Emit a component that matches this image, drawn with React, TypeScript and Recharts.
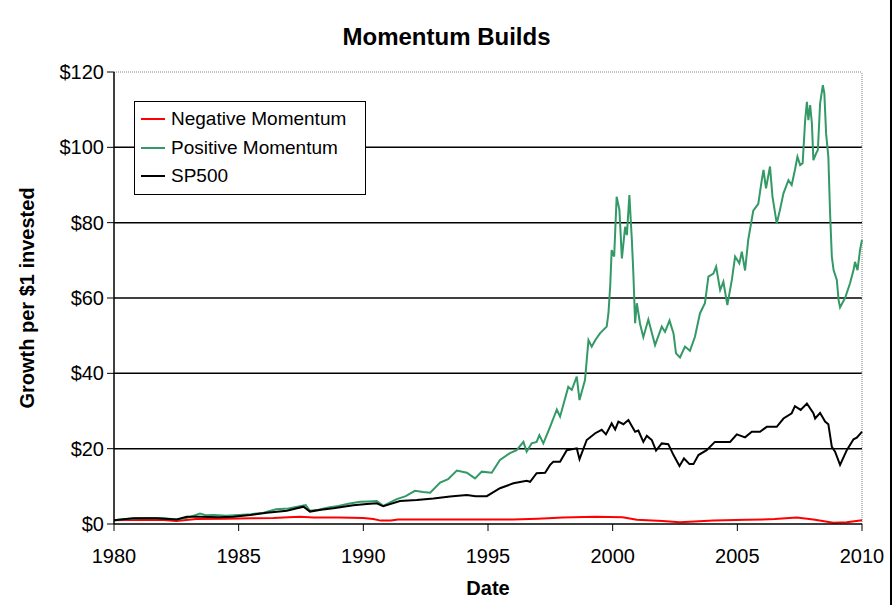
import { Legend, Line, LineChart, ReferenceLine, XAxis, YAxis, Label } from "recharts";

// [year, growth of $1]
const negativeMomentum: [number, number][] = [
  [1980.0, 1.0], [1981.0, 1.1], [1982.0, 1.05], [1982.5, 0.8], [1983.3, 1.3], [1984.5, 1.4],
  [1985.5, 1.5], [1986.4, 1.6], [1987.0, 1.8], [1987.46, 1.9], [1988.0, 1.7], [1989.0, 1.7],
  [1990.0, 1.6], [1990.4, 1.3], [1990.7, 0.9], [1991.1, 0.9], [1991.4, 1.2], [1993.0, 1.2],
  [1994.68, 1.2], [1996.0, 1.2], [1997.0, 1.4], [1998.0, 1.7], [1999.3, 1.9], [2000.4, 1.8],
  [2000.97, 1.1], [2002.0, 0.8], [2002.7, 0.45], [2004.04, 0.9], [2005.38, 1.1], [2006.5, 1.3],
  [2007.38, 1.7], [2008.05, 1.2], [2008.85, 0.35], [2009.39, 0.45], [2010.0, 1.0],
];

const positiveMomentum: [number, number][] = [
  [1980.0, 1.0], [1980.5, 1.3], [1981.0, 1.5], [1981.5, 1.6], [1982.0, 1.5], [1982.5, 1.2],
  [1982.9, 1.6], [1983.2, 2.2], [1983.45, 2.8], [1983.7, 2.3], [1984.0, 2.4], [1984.5, 2.2],
  [1985.0, 2.4], [1985.5, 2.6], [1986.0, 3.0], [1986.5, 3.9], [1987.0, 4.1], [1987.2, 4.4],
  [1987.69, 5.0], [1987.86, 3.5], [1988.2, 3.8], [1988.6, 4.4], [1989.0, 4.8], [1989.4, 5.4],
  [1989.87, 5.9], [1990.2, 6.0], [1990.54, 6.1], [1990.8, 4.8], [1991.1, 5.8], [1991.34, 6.6],
  [1991.7, 7.4], [1992.07, 8.8], [1992.4, 8.5], [1992.68, 8.3], [1993.08, 11.0], [1993.4, 11.9],
  [1993.75, 14.2], [1994.15, 13.6], [1994.48, 12.1], [1994.75, 13.9], [1995.15, 13.6], [1995.48, 17.0],
  [1995.88, 18.8], [1996.15, 19.6], [1996.42, 21.8], [1996.55, 19.2], [1996.75, 21.4], [1996.95, 21.8],
  [1997.06, 23.6], [1997.22, 21.4], [1997.49, 25.8], [1997.76, 30.4], [1997.89, 28.5], [1998.22, 36.4],
  [1998.36, 35.6], [1998.56, 39.1], [1998.67, 32.9], [1998.89, 38.2], [1999.03, 48.8], [1999.16, 47.1],
  [1999.3, 48.8], [1999.49, 50.6], [1999.76, 52.4], [1999.83, 55.9], [1999.9, 63.0], [1999.96, 72.7],
  [2000.06, 71.0], [2000.16, 86.9], [2000.27, 83.4], [2000.37, 70.5], [2000.5, 78.9], [2000.57, 76.7],
  [2000.67, 87.3], [2000.77, 75.4], [2000.83, 66.5], [2000.9, 53.3], [2000.97, 58.6], [2001.1, 53.1],
  [2001.23, 49.6], [2001.43, 54.3], [2001.7, 47.5], [2001.97, 52.4], [2002.1, 51.0], [2002.28, 54.0],
  [2002.44, 50.6], [2002.54, 45.3], [2002.7, 44.2], [2002.9, 47.1], [2003.1, 46.0], [2003.3, 49.7],
  [2003.5, 55.9], [2003.7, 58.6], [2003.84, 65.7], [2004.04, 66.5], [2004.15, 68.3], [2004.31, 62.1],
  [2004.44, 64.3], [2004.6, 58.1], [2004.78, 64.8], [2004.91, 71.0], [2005.08, 69.2], [2005.18, 72.3],
  [2005.31, 67.3], [2005.44, 75.6], [2005.64, 83.2], [2005.84, 85.0], [2005.98, 91.3], [2006.05, 94.0],
  [2006.15, 89.1], [2006.31, 94.9], [2006.41, 86.9], [2006.58, 79.8], [2006.71, 83.4], [2006.85, 87.8],
  [2007.05, 91.3], [2007.18, 90.0], [2007.31, 94.0], [2007.41, 97.5], [2007.52, 95.3], [2007.62, 95.8],
  [2007.72, 107.2], [2007.79, 112.1], [2007.85, 107.2], [2007.92, 111.2], [2007.99, 106.4], [2008.05, 96.6],
  [2008.16, 98.4], [2008.23, 99.3], [2008.32, 111.7], [2008.43, 116.5], [2008.49, 114.3], [2008.56, 103.7],
  [2008.65, 97.5], [2008.72, 82.5], [2008.79, 71.0], [2008.86, 67.4], [2008.99, 64.8], [2009.06, 59.5],
  [2009.12, 57.5], [2009.32, 60.0], [2009.52, 63.9], [2009.66, 67.4], [2009.72, 69.6], [2009.82, 67.4],
  [2009.92, 72.7], [2010.0, 75.4],
];

const sp500: [number, number][] = [
  [1980.0, 1.0], [1980.77, 1.5], [1981.71, 1.5], [1982.51, 1.2], [1982.92, 1.9], [1983.45, 1.9],
  [1984.2, 1.8], [1984.79, 1.95], [1985.46, 2.4], [1986.13, 3.0], [1986.93, 3.5], [1987.6, 4.6],
  [1987.86, 3.3], [1988.3, 3.8], [1988.8, 4.2], [1989.6, 5.0], [1990.14, 5.3], [1990.54, 5.5],
  [1990.8, 4.7], [1990.94, 5.0], [1991.47, 6.1], [1992.14, 6.4], [1992.81, 6.8], [1993.48, 7.3],
  [1994.15, 7.7], [1994.5, 7.4], [1994.95, 7.4], [1995.48, 9.5], [1996.02, 10.8], [1996.55, 11.5],
  [1996.69, 11.2], [1996.95, 13.5], [1997.29, 13.6], [1997.49, 15.7], [1997.62, 16.5], [1997.89, 16.5],
  [1998.16, 19.6], [1998.56, 20.1], [1998.67, 17.2], [1998.96, 22.3], [1999.3, 24.1], [1999.56, 25.0],
  [1999.73, 23.8], [1999.96, 26.7], [2000.1, 25.1], [2000.23, 27.2], [2000.43, 26.5], [2000.63, 27.6],
  [2000.9, 24.5], [2001.03, 24.8], [2001.23, 21.8], [2001.37, 23.4], [2001.57, 22.3], [2001.74, 19.5],
  [2001.97, 21.4], [2002.23, 21.2], [2002.44, 18.3], [2002.68, 15.4], [2002.86, 17.4], [2003.08, 15.9],
  [2003.24, 15.9], [2003.44, 18.3], [2003.77, 19.6], [2004.1, 21.8], [2004.44, 21.8], [2004.71, 21.8],
  [2004.98, 23.8], [2005.31, 23.0], [2005.58, 24.5], [2005.91, 24.5], [2006.18, 25.8], [2006.58, 25.8],
  [2006.85, 28.0], [2007.18, 29.4], [2007.31, 31.3], [2007.54, 30.3], [2007.79, 32.0], [2008.05, 29.4],
  [2008.12, 28.0], [2008.32, 29.5], [2008.52, 27.2], [2008.65, 26.5], [2008.79, 20.5], [2008.92, 19.2],
  [2009.12, 15.7], [2009.39, 19.6], [2009.66, 22.5], [2009.79, 22.9], [2009.96, 24.2], [2010.0, 24.5],
];

const yearTicks = [1980, 1985, 1990, 1995, 2000, 2005, 2010];
const dollarTicks = [0, 20, 40, 60, 80, 100, 120];
const gridValues = [20, 40, 60, 80, 100];

const FONT = '"Liberation Sans", Arial, sans-serif';

const series = [
  { name: "Negative Momentum", color: "#ff0000", points: negativeMomentum },
  { name: "Positive Momentum", color: "#339966", points: positiveMomentum },
  { name: "SP500", color: "#000000", points: sp500 },
];

function LegendBox() {
  return (
    <div
      style={{
        border: "1px solid #000",
        background: "#fff",
        padding: "3px 6px 3px 6px",
        fontFamily: FONT,
        fontSize: 19,
        lineHeight: "28.5px",
        width: 218,
        boxSizing: "content-box",
      }}
    >
      {series.map((s) => (
        <div key={s.name} style={{ display: "flex", alignItems: "center", whiteSpace: "nowrap" }}>
          <span style={{ display: "inline-block", width: 24, height: 2, background: s.color, marginRight: 6 }} />
          {s.name}
        </div>
      ))}
    </div>
  );
}

export default function App() {
  return (
    <div style={{ position: "absolute", left: 0, top: 0, width: 893, height: 605, background: "#fff", fontFamily: FONT }}>
      <div
        style={{
          position: "absolute",
          top: 23,
          left: 0,
          width: 893,
          textAlign: "center",
          fontWeight: "bold",
          fontSize: 24,
        }}
      >
        Momentum Builds
      </div>
      <div style={{ position: "absolute", left: 890, top: 0, width: 2, height: 605, background: "#000" }} />
      <LineChart width={893} height={605} margin={{ top: 72, right: 31, bottom: 0, left: 0 }}>
        <XAxis
          type="number"
          dataKey="year"
          domain={[1980, 2010]}
          ticks={yearTicks}
          allowDuplicatedCategory={false}
          height={81}
          tickSize={7}
          tickMargin={18}
          stroke="#000"
          axisLine={{ stroke: "#000", strokeWidth: 1.5 }}
          tick={{ fill: "#000", fontSize: 20, fontFamily: FONT }}
        >
          <Label value="Date" position="insideBottom" offset={10} style={{ fontWeight: "bold", fontSize: 20, fill: "#000", fontFamily: FONT }} />
        </XAxis>
        <YAxis
          type="number"
          domain={[0, 120]}
          ticks={dollarTicks}
          width={114}
          tickSize={7}
          tickMargin={3}
          stroke="#000"
          axisLine={{ stroke: "#000", strokeWidth: 1.5 }}
          tickFormatter={(v: number) => `$${v}`}
          tick={{ fill: "#000", fontSize: 20, fontFamily: FONT }}
        >
          <Label
            value="Growth per $1 invested"
            angle={-90}
            position="insideLeft"
            dx={22}
            style={{ textAnchor: "middle", fontWeight: "bold", fontSize: 20, fill: "#000", fontFamily: FONT }}
          />
        </YAxis>
        {gridValues.map((v) => (
          <ReferenceLine key={v} y={v} stroke="#000" strokeWidth={1.5} />
        ))}
        <ReferenceLine y={120} stroke="#808080" strokeDasharray="1 1" />
        <ReferenceLine x={2010} stroke="#808080" strokeDasharray="1 1" />
        <Legend
          layout="horizontal"
          verticalAlign="middle"
          align="center"
          content={() => <LegendBox />}
          wrapperStyle={{ left: 134, top: 101, width: "auto", height: "auto" }}
        />
        {series.map((s) => (
          <Line
            key={s.name}
            name={s.name}
            data={s.points.map(([year, value]) => ({ year, value }))}
            dataKey="value"
            type="linear"
            stroke={s.color}
            strokeWidth={2}
            dot={false}
            activeDot={false}
            isAnimationActive={false}
          />
        ))}
      </LineChart>
    </div>
  );
}
